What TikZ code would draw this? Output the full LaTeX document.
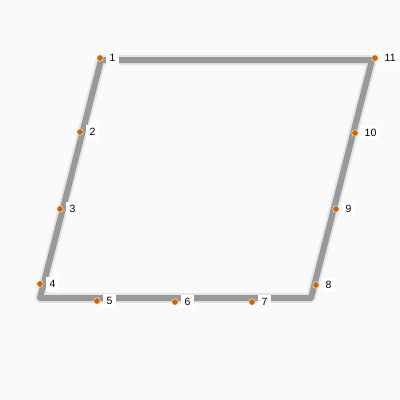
\documentclass[tikz,border=0pt]{standalone}
\usepackage{fontspec}
\setmainfont{Liberation Sans}
\definecolor{dotc}{RGB}{204,102,0}
\begin{document}
\begin{tikzpicture}[x=1pt,y=-1pt,
  edge/.style={draw=black!40, line width=6pt, line join=round, line cap=round},
  shadowedge/.style={draw=black!10, line width=10pt, line join=round, line cap=round},
  pt/.style={circle, fill=dotc, draw=white, line width=0.4pt, inner sep=0pt, minimum size=6.5pt},
  lbl/.style={fill=white, inner sep=3.5pt, font=\fontsize{10.5}{11}\selectfont}]
\fill[black!2] (0,0) rectangle (400,400);
\useasboundingbox (0,0) rectangle (400,400);
\coordinate (c1) at (101,60);
\coordinate (c2) at (372,60);
\coordinate (c3) at (311,298);
\coordinate (c4) at (40,298);
\draw[shadowedge, shift={(1,2)}] (c1) -- (c2) -- (c3) -- (c4) -- cycle;
\draw[edge] (c1) -- (c2) -- (c3) -- (c4) -- cycle;
\foreach \n/\x/\y in {1/100/58, 2/80/132, 3/60/209, 4/40/284, 5/97/301, 6/175/302, 7/252/302, 8/316/285, 9/336/209, 10/355/133, 11/375/58}{
  \node[pt] (p\n) at (\x,\y) {};
  \node[lbl, anchor=west] (l\n) at ([xshift=6pt]p\n.center) {\n};
}
\end{tikzpicture}
\end{document}
